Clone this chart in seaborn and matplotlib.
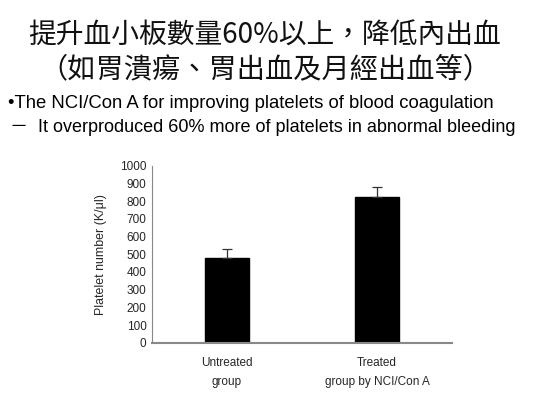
import numpy as np
import pandas as pd
import matplotlib
matplotlib.use("Agg")
import matplotlib.pyplot as plt
import seaborn as sns

# data
groups = ["Untreated\ngroup", "Treated\ngroup by NCI/Con A"]
platelets = [477, 825]
errors = [50, 53]
y_ticks = [0, 100, 200, 300, 400, 500, 600, 700, 800, 900, 1000]

title_1 = "提升血小板數量60%以上，降低內出血"
title_2 = "（如胃潰瘍、胃出血及月經出血等）"
bullet_1 = "•The NCI/Con A for improving platelets of blood coagulation"
bullet_2 = "－  It overproduced 60% more of platelets in abnormal bleeding"

sns.set_theme(style="white")
plt.rcParams['font.family'] = ['Liberation Sans', 'Noto Sans CJK TC', 'DejaVu Sans']

df = pd.DataFrame({"group": groups, "platelets": platelets})

fig = plt.figure(figsize=(5.53, 3.95), dpi=100)
fig.patch.set_facecolor("white")

# slide text
fig.text(265 / 553, 1 - 36 / 395, title_1, ha="center", va="center", fontsize=20,
         family=['Noto Sans CJK TC', 'DejaVu Sans'], color="#111111")
fig.text(265 / 553, 1 - 69 / 395, title_2, ha="center", va="center", fontsize=20.3,
         family=['Noto Sans CJK TC', 'DejaVu Sans'], color="#111111")
fig.text(8 / 553, 1 - 104 / 395, bullet_1, ha="left", va="center", fontsize=13.3,
         family=['Liberation Sans', 'Noto Sans CJK TC'], color="black")
fig.text(10 / 553, 1 - 127 / 395, bullet_2, ha="left", va="center", fontsize=13,
         family=['Liberation Sans', 'Noto Sans CJK TC'], color="black")

ax = fig.add_axes([0.2749, 0.1324, 0.5425, 0.4481])
sns.barplot(data=df, x="group", y="platelets", order=groups, color="black",
            width=0.29, errorbar=None, ax=ax, saturation=1)
for p in ax.patches:
    p.set_edgecolor("black")
ax.errorbar(np.arange(len(groups)), platelets, yerr=[np.zeros(len(errors)), errors],
            fmt="none", ecolor="#333333", elinewidth=0.9, capsize=3.5, capthick=0.9,
            zorder=1)

ax.set_xlim(-0.5, len(groups) - 0.5)
ax.set_ylim(0, 1000)
ax.set_yticks(y_ticks)
ax.set_yticklabels([str(t) for t in y_ticks], fontsize=8.5)

# category ticks sit between the groups, labels under the bars
ax.set_xticks(np.arange(len(groups)) + 0.5)
ax.set_xticklabels([])
ax.set_xticks(np.arange(len(groups)), minor=True)
ax.set_xticklabels(groups, minor=True, fontsize=8.5, linespacing=1.8)
ax.tick_params(axis="x", which="minor", length=0, pad=10)
ax.tick_params(axis="x", which="major", direction="in", length=3, color="#777777")
ax.tick_params(axis="y", direction="in", length=3, color="#777777", pad=4)

ax.set_xlabel("")
ax.set_ylabel("Platelet number (K/μl)", fontsize=8.9, labelpad=9)

for side in ["top", "right"]:
    ax.spines[side].set_visible(False)
ax.spines["left"].set_color("#888888")
ax.spines["left"].set_linewidth(0.8)
ax.spines["bottom"].set_color("#888888")
ax.spines["bottom"].set_linewidth(1.5)

fig.savefig("out.png", dpi=100, facecolor="white")
